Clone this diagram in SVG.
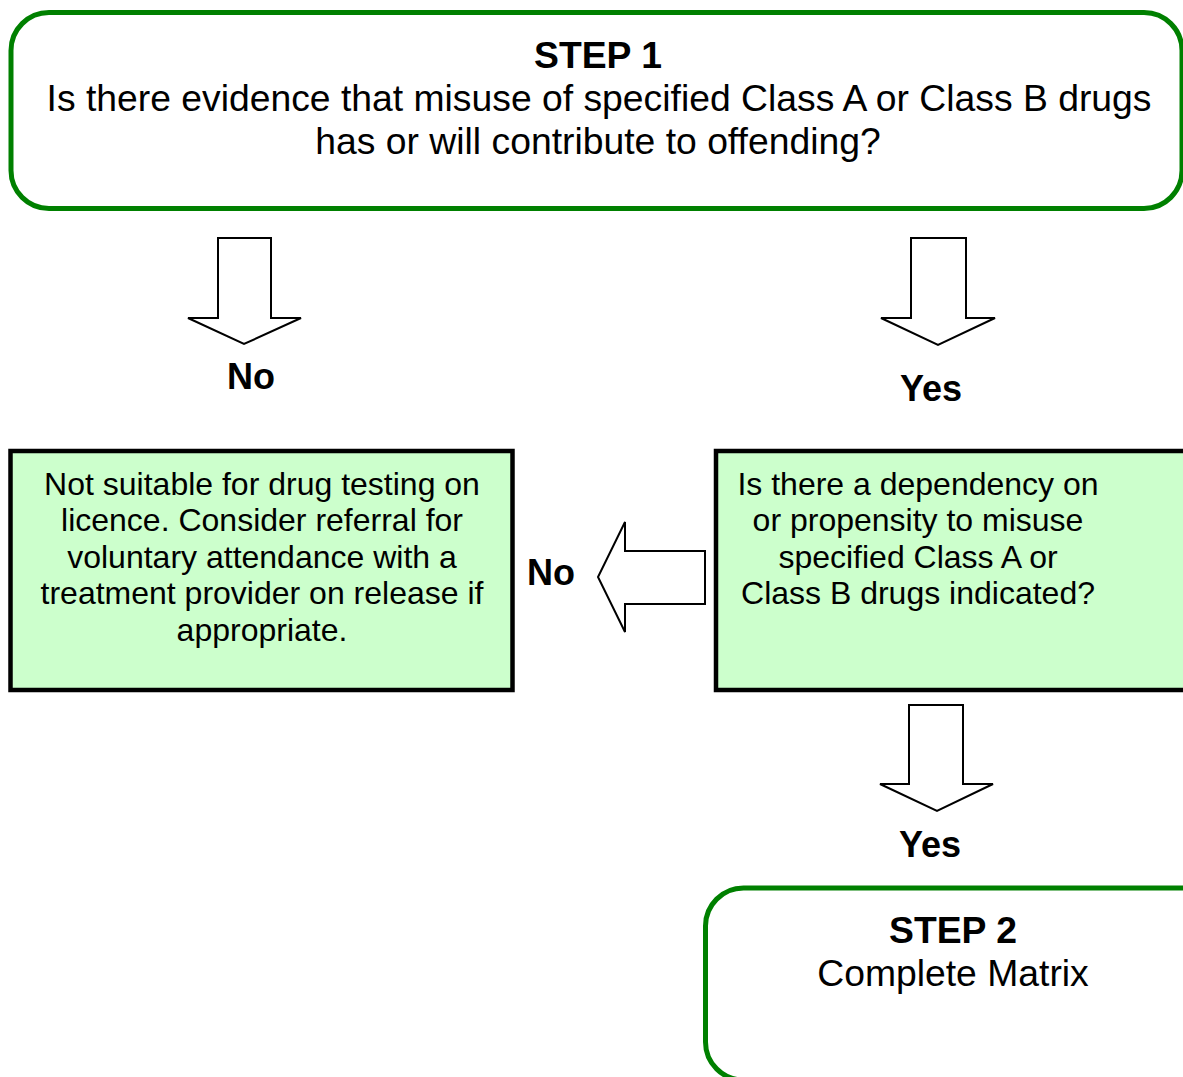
<svg xmlns="http://www.w3.org/2000/svg" width="1183" height="1077" viewBox="0 0 1183 1077">
<style>
.step{fill:#fff;stroke:#008000;stroke-width:5}
.dec{fill:#CCFFCC;stroke:#000;stroke-width:4.5}
.arrow{fill:#fff;stroke:#000;stroke-width:2;stroke-linejoin:miter}
text{font-family:"Liberation Sans",Arial,sans-serif;fill:#000;text-anchor:middle}
.b{font-weight:bold}
.t37{font-size:37.3px}
.t32{font-size:32px}
.lbl{font-size:36px;font-weight:bold}
</style>
<rect width="1183" height="1077" fill="#fff"/>
<g id="step1">
<rect class="step" x="11" y="12.5" width="1171" height="196" rx="38"/>
<text class="t37 b" x="598" y="68">STEP 1</text>
<text class="t37" x="599" y="111">Is there evidence that misuse of specified Class A or Class B drugs</text>
<text class="t37" x="598" y="154">has or will contribute to offending?</text>
</g>
<g id="notSuitable">
<rect class="dec" x="10.5" y="451" width="502" height="239"/>
<text class="t32" x="262" y="495">Not suitable for drug testing on</text>
<text class="t32" x="262" y="531">licence. Consider referral for</text>
<text class="t32" x="262" y="568">voluntary attendance with a</text>
<text class="t32" x="262" y="604">treatment provider on release if</text>
<text class="t32" x="262" y="641">appropriate.</text>
</g>
<g id="dependency">
<rect class="dec" x="716" y="451" width="480" height="239"/>
<text class="t32" x="918" y="495">Is there a dependency on</text>
<text class="t32" x="918" y="531">or propensity to misuse</text>
<text class="t32" x="918" y="568">specified Class A or</text>
<text class="t32" x="918" y="604">Class B drugs indicated?</text>
</g>
<g id="step2">
<rect class="step" x="705.5" y="888" width="520" height="192" rx="38"/>
<text class="t37 b" x="953" y="943">STEP 2</text>
<text class="t37" x="953" y="986">Complete Matrix</text>
</g>
<g id="connectors">
<polygon class="arrow" points="218,238 271,238 271,318 301,318 244,344 188,318 218,318"/>
<text class="lbl" x="251" y="389">No</text>
<polygon class="arrow" points="911,238 966,238 966,318 995,318 938,345 881,318 911,318"/>
<text class="lbl" x="931" y="401">Yes</text>
<polygon class="arrow" points="705,551 705,604 625,604 625,632 598,577 625,522 625,551"/>
<text class="lbl" x="551" y="585">No</text>
<polygon class="arrow" points="909,705 963,705 963,784 993,784 937,811 880,784 909,784"/>
<text class="lbl" x="930" y="857">Yes</text>
</g>
</svg>
